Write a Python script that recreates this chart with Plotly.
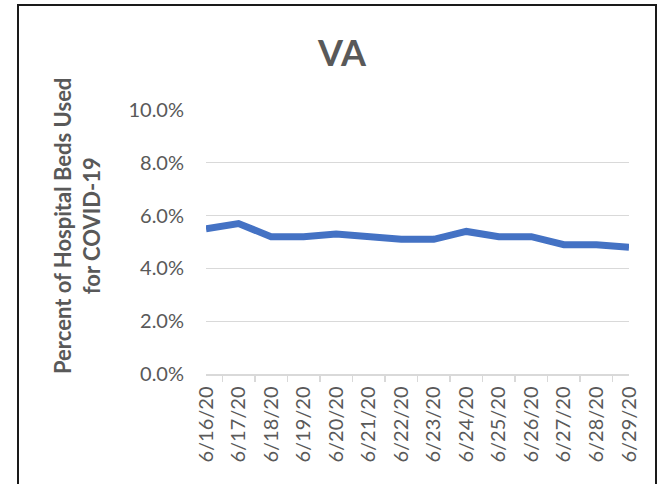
import plotly.graph_objects as go

dates = ["6/16/20", "6/17/20", "6/18/20", "6/19/20", "6/20/20", "6/21/20", "6/22/20",
         "6/23/20", "6/24/20", "6/25/20", "6/26/20", "6/27/20", "6/28/20", "6/29/20"]
pct_beds = [0.055, 0.057, 0.052, 0.052, 0.053, 0.052, 0.051,
            0.051, 0.054, 0.052, 0.052, 0.049, 0.049, 0.048]
y_ticks = [0, 0.02, 0.04, 0.06, 0.08, 0.10]

W, H = 660, 484
L, T = 206, 110
R = W - 629
B = H - 374
pw, ph = W - L - R, H - T - B

def px_x(x):
    return (x - L) / pw

def px_y(y):
    return (H - B - y) / ph

FONT = "Lato"
GREY = "#595959"

fig = go.Figure()
fig.add_trace(go.Scatter(
    x=dates, y=pct_beds, mode="lines",
    line=dict(color="#4472C4", width=7, shape="linear"),
    hoverinfo="skip", showlegend=False,
))

fig.update_layout(
    width=W, height=H,
    margin=dict(l=L, r=R, t=T, b=B, pad=0),
    paper_bgcolor="white", plot_bgcolor="white",
    font=dict(family=FONT, color=GREY, size=20),
    xaxis=dict(
        type="category", tickangle=-90, tickfont=dict(size=20, color=GREY),
        showgrid=False, showline=True, linecolor="#d9d9d9", linewidth=1.5,
        ticks="outside", tickson="boundaries", ticklen=6, tickcolor="#d9d9d9",
        tickwidth=1.5, ticklabelstandoff=3, fixedrange=True,
    ),
    yaxis=dict(
        range=[0, 0.1], tickvals=y_ticks, tickformat=".1%",
        tickfont=dict(size=20, color=GREY), showgrid=True, gridcolor="#d9d9d9",
        gridwidth=1.2, zeroline=False, showline=False, ticks="",
        ticklabelstandoff=21, fixedrange=True,
    ),
    annotations=[
        dict(text="<b>VA</b>", x=px_x(342), y=px_y(52), xref="paper", yref="paper",
             showarrow=False, font=dict(size=36, color=GREY, family=FONT),
             xanchor="center", yanchor="middle"),
        dict(text="<b>Percent of Hospital Beds Used<br>for COVID-19</b>",
             x=px_x(77), y=px_y(226), xref="paper", yref="paper",
             showarrow=False, textangle=-90, font=dict(size=22, color=GREY, family=FONT),
             xanchor="center", yanchor="middle"),
    ],
    shapes=[
        dict(type="rect", xref="paper", yref="paper",
             x0=px_x(18), x1=px_x(656), y0=px_y(500), y1=px_y(5),
             line=dict(color="#1a1a1a", width=2), fillcolor="rgba(0,0,0,0)", layer="below"),
    ],
)

fig.write_html(
    "out.html",
    config={"displayModeBar": False, "staticPlot": True},
    post_script="document.body.style.margin='0';document.body.style.overflow='hidden';",
)
